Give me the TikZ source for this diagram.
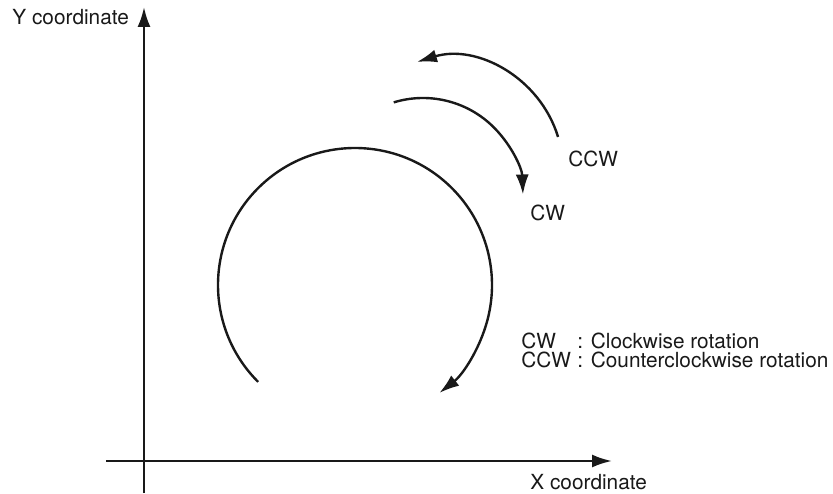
\documentclass[tikz,border=0pt]{standalone}
\usepackage{fontspec}
\setmainfont{TeX Gyre Heros}
\usetikzlibrary{arrows.meta}

\begin{document}
\begin{tikzpicture}[
    x=0.5pt, y=0.5pt,
    >={Latex[length=10pt, width=6.5pt]},
    font=\fontsize{10.4}{12.5}\selectfont,
    axisline/.style={black!90, line width=1.2pt, ->},
    rotarc/.style={black!90, line width=1.2pt, ->},
    lbl/.style={text=black!90, inner sep=0pt, anchor=base west}
]

% ---------- frame (reference is 833 x 493) ----------
\useasboundingbox (0,0) rectangle (833,493);

% ---------- parameters ----------
\def\rbig{137}
\def\rcw{100}
\def\rccw{113}

% ---------- axes ----------
\coordinate (xstart) at (106,32);
\coordinate (xend)   at (612,32);
\coordinate (ystart) at (144,0);
\coordinate (yend)   at (144,486);
\draw[axisline] (xstart) -- (xend);
\draw[axisline] (ystart) -- (yend);
\node[lbl] (ylabel) at (12,468) {Y coordinate};
\node[lbl] (xlabel) at (530,4) {X coordinate};

% ---------- big arc, clockwise ----------
\coordinate (bigc) at (355,208);
\draw[rotarc] (bigc) ++(225:\rbig) arc[start angle=225, end angle=-52, radius=\rbig];

% ---------- small arc: CW ----------
\coordinate (cwc) at (423,295);
\draw[rotarc] (cwc) ++(107:\rcw) arc[start angle=107, end angle=2, radius=\rcw];
\node[lbl] (cwlabel) at (530,273) {CW};

% ---------- small arc: CCW ----------
\coordinate (ccwc) at (450,323);
\draw[rotarc] (ccwc) ++(17:\rccw) arc[start angle=17, end angle=107, radius=\rccw];
\node[lbl] (ccwlabel) at (568,326) {CCW};

% ---------- legend ----------
\node[lbl] (cwkey)   at (521,145) {CW};
\node[lbl] (cwtext)  at (577,145) {: Clockwise rotation};
\node[lbl] (ccwkey)  at (521,126) {CCW};
\node[lbl] (ccwtext) at (577,126) {: Counterclockwise rotation};

\end{tikzpicture}
\end{document}
